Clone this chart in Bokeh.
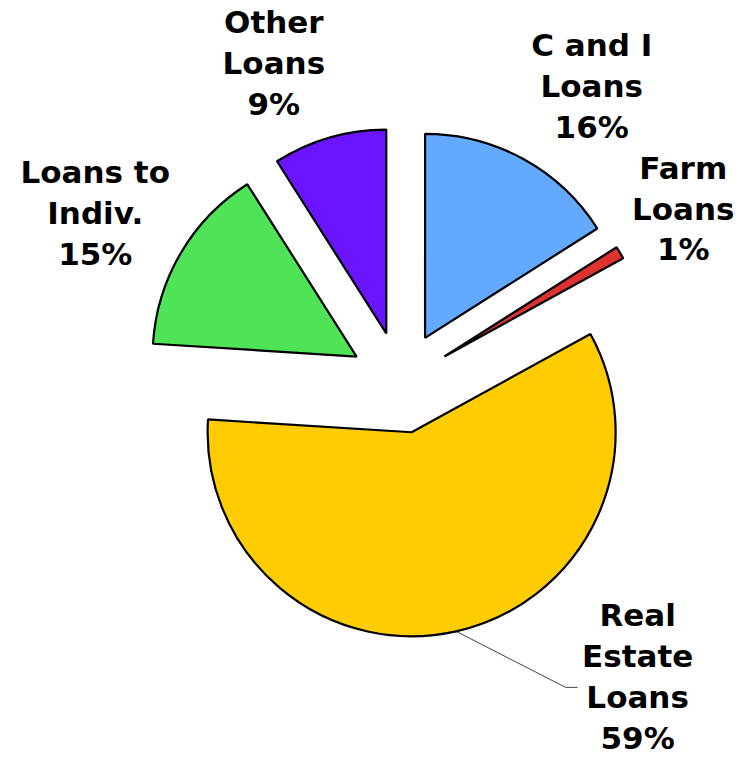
import math
from bokeh.plotting import figure
from bokeh.models import Range1d, ColumnDataSource
from bokeh.embed import file_html
from bokeh.resources import INLINE
from bokeh.core.properties import value

# ---- data ----
categories = ["C and I\nLoans", "Farm\nLoans", "Real\nEstate\nLoans", "Loans to\nIndiv.", "Other\nLoans"]
shares = [16, 1, 59, 15, 9]
colors = ["#62A9FF", "#DC3232", "#FFCC00", "#4FE358", "#6A14FF"]

# ---- layout / style ----
W, H = 742, 755
CX, CY = 400, 381          # pie centre (data units == pixels, y up)
R = 204                    # radius
EXPLODE = 51               # explode distance
label_dist = [353, 332, 377.6, 349, 344]      # label distance from pie centre
label_shift = [4.0, -1.0, -26.3, -1.6, -5.4]  # degrees clockwise from slice mid-angle
leader = [False, False, True, False, False]

p = figure(width=W, height=H, x_range=Range1d(0, W), y_range=Range1d(763 - H, 763),
           output_backend="svg", toolbar_location=None, min_border=0)
p.axis.visible = False
p.grid.visible = False
p.outline_line_color = None
p.background_fill_color = "white"

total = float(sum(shares))
cum = 0.0
xs, ys, sa, ea = [], [], [], []
lx, ly, ltxt = [], [], []
for i, v in enumerate(shares):
    a0 = math.pi / 2 - 2 * math.pi * cum / total
    cum += v
    a1 = math.pi / 2 - 2 * math.pi * cum / total
    mid = (a0 + a1) / 2
    cx = CX + EXPLODE * math.cos(mid)
    cy = CY + EXPLODE * math.sin(mid)
    xs.append(cx); ys.append(cy); sa.append(a1); ea.append(a0)
    la = mid - math.radians(label_shift[i])
    tx = CX + label_dist[i] * math.cos(la)
    ty = CY + label_dist[i] * math.sin(la)
    lx.append(tx); ly.append(ty)
    ltxt.append(f"{categories[i]}\n{v}%")
    if leader[i]:
        sx = cx + R * math.cos(mid)
        sy = cy + R * math.sin(mid)
        p.line([sx, tx - 72, tx - 60], [sy, ty - 11, ty - 11], line_color="#444444", line_width=1)

src = ColumnDataSource(dict(x=xs, y=ys, start=sa, end=ea, color=colors))
p.wedge(x="x", y="y", radius=R, start_angle="start", end_angle="end", direction="anticlock",
        fill_color="color", line_color="black", line_width=2.2, source=src)

lsrc = ColumnDataSource(dict(x=lx, y=ly, text=ltxt))
p.text(x="x", y="y", text="text", source=lsrc, text_font=value("DejaVu Sans"),
       text_font_style="bold", text_font_size="31px", text_align="center",
       text_baseline="middle", text_line_height=1.136, text_color="black")

open("out.html", "w").write(file_html(p, INLINE))
